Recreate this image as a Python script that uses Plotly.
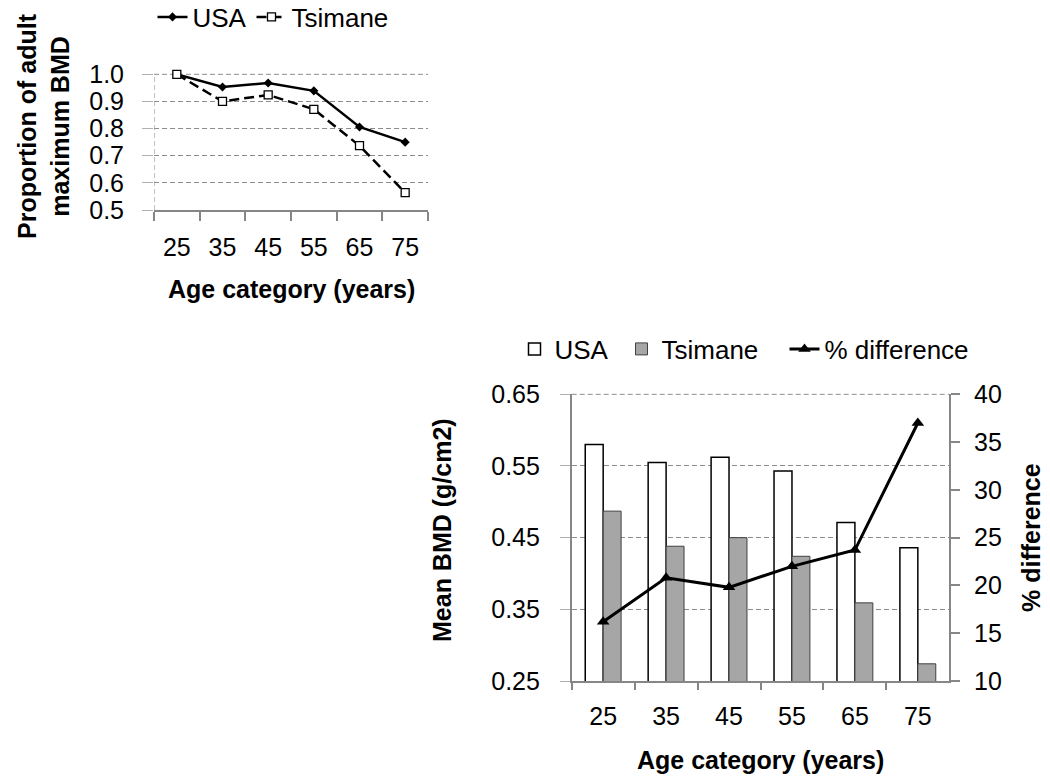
import plotly.graph_objects as go

ages = ["25", "35", "45", "55", "65", "75"]
usa_prop = [1.0, 0.953, 0.968, 0.939, 0.806, 0.750]
tsimane_prop = [1.0, 0.900, 0.924, 0.871, 0.737, 0.564]
usa_bmd = [0.580, 0.555, 0.562, 0.543, 0.471, 0.436]
tsimane_bmd = [0.487, 0.438, 0.450, 0.424, 0.359, 0.274]
pct_diff = [16.2, 20.8, 19.8, 22.0, 23.7, 37.0]

FONT = "Liberation Sans, Arial, sans-serif"
AX = "#868686"
GRID = "#8c8c8c"
W, H = 1050, 779


def px_x(p):
    return p / W


def px_y(p):
    return 1 - p / H


fig = go.Figure()

# Top chart
fig.add_trace(go.Scatter(
    x=ages, y=usa_prop, name="USA", mode="lines+markers",
    line=dict(color="black", width=2.5),
    marker=dict(symbol="diamond", size=7, color="black"),
    xaxis="x", yaxis="y", legend="legend", cliponaxis=False))
fig.add_trace(go.Scatter(
    x=ages, y=tsimane_prop, name="Tsimane", mode="lines+markers",
    line=dict(color="black", width=2.5, dash="10px,5px"),
    marker=dict(symbol="square", size=8, color="white", line=dict(color="black", width=1.3)),
    xaxis="x", yaxis="y", legend="legend3", cliponaxis=False))

# Bottom chart
fig.add_trace(go.Bar(
    x=ages, y=usa_bmd, name="USA",
    marker=dict(color="white", line=dict(color="black", width=1.5)),
    xaxis="x2", yaxis="y2", legend="legend2"))
fig.add_trace(go.Bar(
    x=ages, y=tsimane_bmd, name="Tsimane",
    marker=dict(color="#a6a6a6", line=dict(color="#404040", width=1)),
    xaxis="x2", yaxis="y2", legend="legend4"))
fig.add_trace(go.Scatter(
    x=ages, y=pct_diff, name="% difference", mode="lines+markers",
    line=dict(color="black", width=3),
    marker=dict(symbol="triangle-up", size=11, color="black"),
    xaxis="x2", yaxis="y3", legend="legend5", cliponaxis=False))

tickfont = dict(family=FONT, size=25, color="black")
legfont = dict(family=FONT, size=26, color="black")


def leg(xpx, ypx):
    return dict(orientation="h", x=px_x(xpx), xanchor="left", y=px_y(ypx), yanchor="middle",
                font=legfont, bgcolor="rgba(0,0,0,0)", itemclick=False)


fig.update_layout(
    width=W, height=H,
    margin=dict(l=0, r=0, t=0, b=0, autoexpand=False),
    paper_bgcolor="white", plot_bgcolor="white",
    font=dict(family=FONT, color="black"),
    barmode="group", bargap=0.43, bargroupgap=0,
    showlegend=True,
    xaxis=dict(
        domain=[px_x(154), px_x(428)], anchor="y", type="category",
        categoryorder="array", categoryarray=ages, range=[-0.5, 5.5],
        tickson="boundaries", ticks="outside", ticklen=9, tickcolor=AX, tickwidth=1.5,
        showline=True, linecolor=AX, linewidth=1.5, showgrid=False, automargin=False,
        tickfont=tickfont, ticklabelstandoff=14, fixedrange=True),
    yaxis=dict(
        domain=[px_y(210), px_y(74.3)], anchor="x", range=[0.5, 1.0],
        tick0=0.5, dtick=0.1, tickformat=".1f",
        showgrid=True, gridcolor=GRID, griddash="5px,3px", gridwidth=1,
        ticks="outside", ticklen=11, tickcolor="#b0b0b0", automargin=False,
        showline=False, zeroline=False,
        tickfont=tickfont, ticklabelstandoff=13),
    xaxis2=dict(
        domain=[px_x(571.7), px_x(949.3)], anchor="y2", type="category",
        categoryorder="array", categoryarray=ages, range=[-0.5, 5.5],
        tickson="boundaries", ticks="outside", ticklen=7, tickcolor=AX, tickwidth=1.5,
        showline=True, linecolor=AX, linewidth=1.5, showgrid=False, automargin=False,
        tickfont=tickfont, ticklabelstandoff=12),
    yaxis2=dict(
        domain=[px_y(681), px_y(394.3)], anchor="x2", range=[0.25, 0.65],
        tick0=0.25, dtick=0.1, tickformat=".2f",
        showgrid=True, gridcolor=GRID, griddash="5px,3px", gridwidth=1,
        ticks="outside", ticklen=10, tickcolor="#b0b0b0", automargin=False,
        showline=True, linecolor=AX, linewidth=1.5, zeroline=False,
        tickfont=tickfont, ticklabelstandoff=15),
    yaxis3=dict(
        overlaying="y2", side="right", anchor="x2", range=[10, 40],
        tick0=10, dtick=5, showgrid=False, zeroline=False,
        ticks="outside", ticklen=9, tickcolor=AX, tickwidth=1.5, automargin=False,
        showline=True, linecolor=AX, linewidth=1.5,
        tickfont=tickfont, ticklabelstandoff=9),
    legend=leg(152.5, 17),
    legend3=leg(251.5, 17),
    legend2=leg(514.5, 349),
    legend4=leg(621.5, 349),
    legend5=leg(784.5, 349),
)

# Dashed vertical axis line for top chart
fig.add_shape(type="line", xref="x", yref="y domain", x0=-0.5, x1=-0.5, y0=0, y1=1,
              line=dict(color="#999999", width=1.2, dash="5px,3px"))
# Top-edge dashed gridlines (plotly skips gridlines at the range edge)
fig.add_shape(type="line", xref="x domain", yref="y domain", x0=0, x1=1, y0=1, y1=1,
              line=dict(color=GRID, width=1, dash="5px,3px"), layer="below")
fig.add_shape(type="line", xref="x2 domain", yref="y2 domain", x0=0, x1=1, y0=1, y1=1,
              line=dict(color=GRID, width=1, dash="5px,3px"), layer="below")

title_font = dict(family=FONT, size=25, color="black")
fig.add_annotation(text="<b>Proportion of adult<br>maximum BMD</b>", textangle=-90,
                   xref="paper", yref="paper", x=px_x(44), y=px_y(126),
                   xanchor="center", yanchor="middle", showarrow=False, font=title_font)
fig.add_annotation(text="<b>Age category (years)</b>",
                   xref="paper", yref="paper", x=px_x(291), y=px_y(289),
                   xanchor="center", yanchor="middle", showarrow=False, font=title_font)
fig.add_annotation(text="<b>Mean BMD (g/cm2)</b>", textangle=-90,
                   xref="paper", yref="paper", x=px_x(442), y=px_y(530),
                   xanchor="center", yanchor="middle", showarrow=False, font=title_font)
fig.add_annotation(text="<b>% difference</b>", textangle=-90,
                   xref="paper", yref="paper", x=px_x(1031), y=px_y(538),
                   xanchor="center", yanchor="middle", showarrow=False, font=title_font)
fig.add_annotation(text="<b>Age category (years)</b>",
                   xref="paper", yref="paper", x=px_x(760.5), y=px_y(760),
                   xanchor="center", yanchor="middle", showarrow=False, font=title_font)

fig.write_html("out.html", config={"displayModeBar": False},
               post_script="document.body.style.margin='0';document.body.style.padding='0';")
